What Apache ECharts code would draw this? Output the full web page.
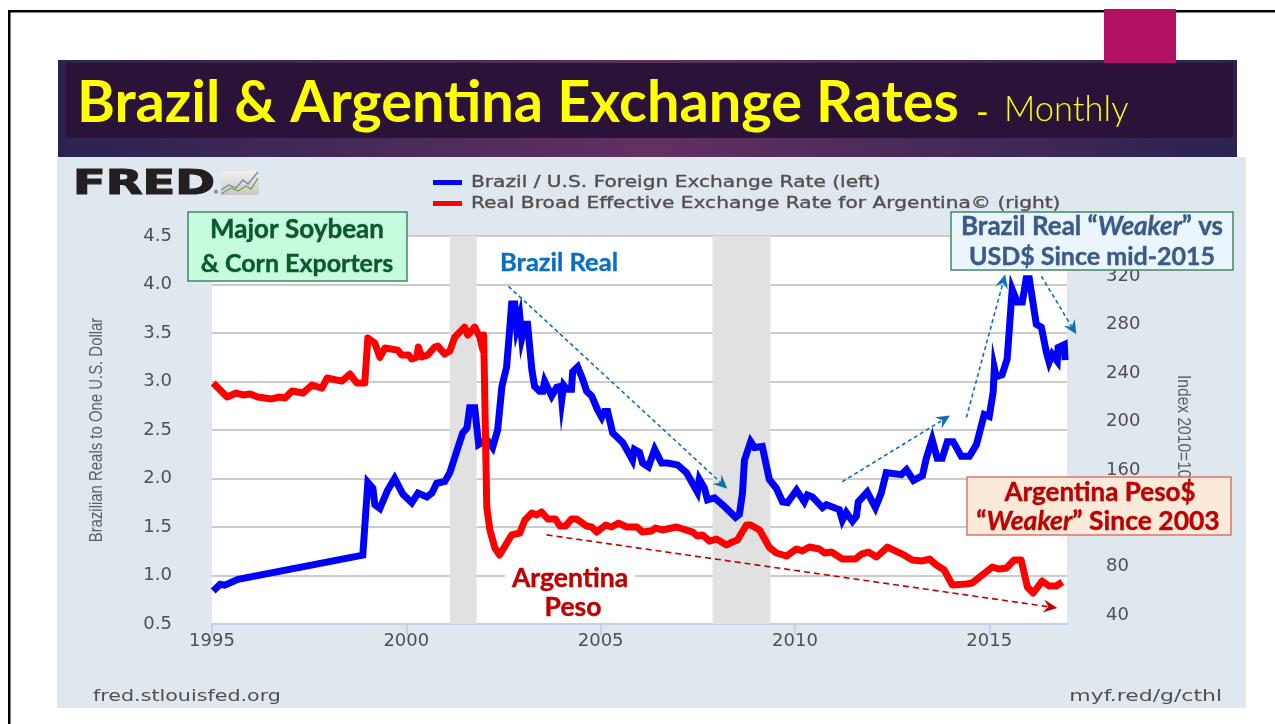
<!DOCTYPE html>
<html><head><meta charset="utf-8">
<style>html,body{margin:0;padding:0;background:#fff}#c{width:1275px;height:724px}</style>
<script src="https://cdn.jsdelivr.net/npm/echarts@6/dist/echarts.min.js"></script>
</head><body><div id="c"></div>
<script>
const xTicks=[1995,2000,2005,2010,2015];
const leftTicks=[0.5,1,1.5,2,2.5,3,3.5,4,4.5];
const rightTicks=[40,80,120,160,200,240,280,320];
const recessions=[[2001.12,2001.81],[2007.88,2009.37]];
const brazilName='Brazil / U.S. Foreign Exchange Rate (left)';
const argentinaName='Real Broad Effective Exchange Rate for Argentina© (right)';
const brazilDates=[1995.03,1995.21,1995.33,1995.67,1998.88,1999.01,1999.14,1999.19,1999.32,1999.52,1999.7,1999.91,2000.14,2000.3,2000.53,2000.66,2000.78,2000.99,2001.12,2001.45,2001.56,2001.63,2001.76,2001.86,2002.07,2002.22,2002.35,2002.46,2002.58,2002.66,2002.71,2002.79,2002.84,2002.92,2002.97,2003.05,2003.12,2003.23,2003.3,2003.43,2003.51,2003.56,2003.61,2003.74,2003.87,2003.97,2004,2004.05,2004.13,2004.25,2004.28,2004.41,2004.54,2004.64,2004.77,2004.92,2005.03,2005.1,2005.18,2005.31,2005.57,2005.82,2005.87,2006,2006.08,2006.23,2006.39,2006.57,2006.72,2006.98,2007.21,2007.49,2007.54,2007.67,2007.75,2007.93,2008.19,2008.47,2008.57,2008.65,2008.7,2008.86,2008.96,2009.16,2009.34,2009.52,2009.68,2009.81,2010.04,2010.24,2010.32,2010.45,2010.71,2010.81,2011.14,2011.22,2011.32,2011.48,2011.58,2011.63,2011.86,2012.07,2012.22,2012.35,2012.74,2012.87,2013.05,2013.28,2013.38,2013.53,2013.66,2013.79,2013.92,2014.07,2014.28,2014.49,2014.67,2014.87,2015,2015.1,2015.13,2015.18,2015.33,2015.46,2015.59,2015.72,2015.85,2015.95,2016.03,2016.21,2016.34,2016.47,2016.54,2016.62,2016.75,2016.77,2016.93,2016.95];
const brazilValues=[0.84,0.91,0.9,0.96,1.21,1.96,1.9,1.73,1.69,1.88,2,1.84,1.75,1.85,1.81,1.85,1.95,1.97,2.06,2.47,2.52,2.73,2.73,2.35,2.4,2.32,2.5,2.95,3.15,3.54,3.8,3.8,3.55,3.67,3.45,3.59,3.59,3.12,2.95,2.9,2.9,3,3,2.85,2.94,2.95,2.81,2.96,2.92,2.92,3.1,3.15,3.02,2.9,2.85,2.71,2.63,2.69,2.69,2.47,2.37,2.19,2.3,2.27,2.16,2.12,2.3,2.16,2.16,2.14,2.06,1.86,1.99,1.9,1.78,1.8,1.71,1.6,1.63,1.85,2.19,2.38,2.32,2.33,1.99,1.9,1.76,1.75,1.88,1.76,1.83,1.81,1.7,1.73,1.68,1.57,1.65,1.56,1.61,1.76,1.86,1.7,1.85,2.06,2.04,2.09,1.98,2.03,2.21,2.4,2.21,2.21,2.38,2.38,2.23,2.23,2.35,2.66,2.64,2.89,3.14,3.05,3.07,3.23,3.95,3.82,3.82,4.06,4.06,3.59,3.56,3.3,3.2,3.28,3.21,3.35,3.38,3.22];
const argentinaDates=[1995.03,1995.39,1995.62,1995.8,1995.98,1996.18,1996.54,1996.72,1996.88,1997.06,1997.34,1997.57,1997.83,1997.96,1998.34,1998.55,1998.73,1998.93,1999.01,1999.19,1999.32,1999.45,1999.78,1999.88,2000.06,2000.14,2000.27,2000.31,2000.4,2000.55,2000.73,2000.81,2000.99,2001.12,2001.25,2001.5,2001.58,2001.76,2001.89,2001.97,2001.99,2002.04,2002.07,2002.15,2002.28,2002.4,2002.71,2002.92,2003.05,2003.23,2003.35,2003.48,2003.64,2003.84,2003.95,2004.1,2004.25,2004.38,2004.64,2004.77,2004.9,2005.13,2005.28,2005.46,2005.67,2005.93,2006.08,2006.31,2006.41,2006.59,2006.95,2007.37,2007.49,2007.62,2007.8,2007.98,2008.24,2008.39,2008.52,2008.75,2008.86,2009.09,2009.34,2009.52,2009.78,2010.04,2010.19,2010.37,2010.63,2010.76,2010.94,2011.22,2011.56,2011.71,2011.89,2012.1,2012.38,2012.76,2013.02,2013.28,2013.46,2013.64,2013.84,2014.05,2014.41,2014.56,2014.82,2015.08,2015.26,2015.44,2015.64,2015.82,2015.98,2016.13,2016.36,2016.54,2016.72,2016.88];
const argentinaValues=[231.8,220.2,223.5,221.9,222.7,220.2,218.6,220.2,219.4,225.2,223.5,230.1,227.6,235.9,233.4,239.2,231.8,231.8,269,264.8,253,260.7,259,254.9,254.9,251.6,253.3,261.5,253.3,254.9,261.5,262.3,255.7,258.2,269.8,278,271.4,278,269.8,259,271.4,271.4,129.3,110.3,95.4,89.6,106.2,107.8,118.5,124.3,122.7,125.2,119.4,119.4,113.6,113.6,119.4,119.4,113.6,112.8,108.6,114.4,112.8,116,112.8,112.8,108.6,109.5,111.9,110.3,112.8,108.6,105.3,106.2,101.2,102.8,97.9,100.4,102,114.4,114.4,110.3,96,91.3,88.8,94.6,93,96.2,94.6,91.3,92.1,86.3,86.3,90.4,92.1,88,96.2,90.4,85.5,84.7,86.3,81.4,77.2,64.8,65.7,66.5,73.1,79.7,78,78.9,85.5,85.5,63.2,58.2,68.1,64,64,67.3];
const blueArrows=[[2002.63,3.98,2008.26,1.895],[2011.22,1.967,2013.99,2.649],[2014.41,2.628,2015.41,4.105],[2016.34,4.085,2017.24,3.486]];
const redArrows=[[2003.61,1.419,2016.75,0.665]];

const zip=(a,b)=>a.map((v,i)=>[v,b[i]]);
const arrowSeries=(name,data,color,dash,width)=>({
  name,type:'custom',xAxisIndex:0,yAxisIndex:0,silent:true,clip:false,z:5,data,
  encode:{x:[0,2],y:[1,3]},
  renderItem(p,api){
    const a=api.coord([api.value(0),api.value(1)]),b=api.coord([api.value(2),api.value(3)]);
    const t=Math.atan2(b[1]-a[1],b[0]-a[0]),c=Math.cos(t),s=Math.sin(t),L=14,W=6.5,N=9;
    return {type:'group',children:[
      {type:'line',shape:{x1:a[0],y1:a[1],x2:b[0]-N*c,y2:b[1]-N*s},style:{stroke:color,lineWidth:width,lineDash:dash,fill:null}},
      {type:'polygon',shape:{points:[[b[0],b[1]],[b[0]-L*c-W*s,b[1]-L*s+W*c],[b[0]-N*c,b[1]-N*s],[b[0]-L*c+W*s,b[1]-L*s-W*c]]},style:{fill:color}}
    ]};
  }
});
const rect=(x,y,w,h,fill,stroke,z)=>({type:'rect',shape:{x,y,width:w,height:h},style:{fill,stroke:stroke||null,lineWidth:stroke?1.5:0},z:z,silent:true});
const txt=(x,y,text,size,fill,z,extra)=>({type:'text',x,y,z,silent:true,style:Object.assign({text,font:`bold ${size}px Lato`,fill,textAlign:'center',textVerticalAlign:'middle',stroke:fill,lineWidth:0.4},extra||{})});
const stretched=(x,y,text,font,fill,sx,align,z,sw)=>({type:'text',x,y,z:z||-14,scaleX:sx,silent:true,style:{text,font,fill,textAlign:align||'left',textVerticalAlign:'middle',stroke:sw?fill:null,lineWidth:sw||0}});
const richWeak=(color,size)=>({i:{fill:color,textFill:color,fontStyle:'italic',fontWeight:'bold',fontSize:size,fontFamily:'Lato'}});

const chart=echarts.init(document.getElementById('c'),null,{renderer:'canvas'});
chart.setOption({
  animation:false,backgroundColor:'#fff',
  title:[
    {text:'Brazil & Argentina Exchange Rates',left:77,top:74,padding:0,textStyle:{color:'#ffff00',fontFamily:'Lato',fontWeight:'bold',fontSize:57.7}},
    {text:'-',left:976,top:96,padding:0,textStyle:{color:'#ffff00',fontFamily:'Lato',fontWeight:'normal',fontSize:34}},
    {text:'Monthly',left:1004,top:92,padding:0,textStyle:{color:'#ffff00',fontFamily:'Lato',fontWeight:300,fontSize:34.5}}
  ],
  legend:{left:433,top:180,orient:'vertical',itemWidth:29,itemHeight:5,itemGap:16,padding:0,selectedMode:false,
    data:[{name:brazilName,icon:'rect'},{name:argentinaName,icon:'rect'}],
    formatter:()=>'',textStyle:{fontSize:5}},
  grid:{left:212,right:208,top:236,height:388,show:true,backgroundColor:'#fff',borderWidth:0,outerBoundsMode:'none'},
  xAxis:{type:'value',min:1995,max:2017,interval:5,
    axisLine:{show:true,lineStyle:{color:'#c3d2e0',width:2}},
    axisTick:{show:true,length:11,customValues:xTicks,lineStyle:{color:'#c3d2e0',width:2}},
    splitLine:{show:false},
    axisLabel:{color:'#505050',fontFamily:'DejaVu Sans',fontSize:18,margin:8,customValues:xTicks,formatter:v=>String(v)}},
  yAxis:[
    {type:'value',min:0.5,max:4.5,interval:0.5,position:'left',
     axisLine:{show:false},axisTick:{show:false},
     splitLine:{show:true,lineStyle:{color:'#cccccc',width:2}},
     axisLabel:{color:'#505050',fontFamily:'DejaVu Sans',fontSize:18,margin:40,customValues:leftTicks,formatter:v=>v.toFixed(1)}},
    {type:'value',min:32.6,max:353.3,position:'right',
     axisLine:{show:false},axisTick:{show:false},splitLine:{show:false},
     axisLabel:{color:'#505050',fontFamily:'DejaVu Sans',fontSize:18,margin:39,customValues:rightTicks}}
  ],
  series:[
    {name:brazilName,type:'line',xAxisIndex:0,yAxisIndex:0,z:3,showSymbol:false,symbol:'none',data:zip(brazilDates,brazilValues),
     lineStyle:{color:'#0000ff',width:7,join:'miter'},itemStyle:{color:'#0000ff'},
     markArea:{silent:true,itemStyle:{color:'#e1e1e1'},data:recessions.map(r=>[{xAxis:r[0]},{xAxis:r[1]}])}},
    {name:argentinaName,type:'line',xAxisIndex:0,yAxisIndex:1,z:4,showSymbol:false,symbol:'none',data:zip(argentinaDates,argentinaValues),
     lineStyle:{color:'#ff0000',width:7,join:'round'},itemStyle:{color:'#ff0000'}},
    arrowSeries('Brazil trend',blueArrows,'#0f70b8',[4,3],1.6),
    arrowSeries('Argentina trend',redArrows,'#c00000',[6,4],1.6)
  ],
  graphic:{elements:[
    rect(8,10,1267,2.5,'#000',null,-20),
    rect(8,10,2.5,714,'#000',null,-20),
    {type:'rect',shape:{x:58,y:60,width:1179,height:97},z:-19,silent:true,style:{fill:new echarts.graphic.LinearGradient(0,0,1,0,[{offset:0,color:'#2a2350'},{offset:.5,color:'#62305f'},{offset:1,color:'#2a2350'}])}},
    rect(66,63,1167,75,'#2a1238',null,-18),
    rect(1104,9,72,54,'#b31262',null,-17),
    rect(57,157,1189,551,'#dfe7ef',null,-16),
    // FRED logo
    {type:'text',x:73,y:185,z:-15,scaleX:1.45,silent:true,style:{text:'FRED',font:'900 33px "DejaVu Sans"',fill:'#231f20',stroke:'#231f20',lineWidth:1.2,textVerticalAlign:'middle'}},
    {type:'text',x:213,y:192,z:-15,silent:true,style:{text:'®',font:'6px "DejaVu Sans"',fill:'#231f20',textVerticalAlign:'middle'}},
    {type:'rect',shape:{x:221,y:171,width:38,height:24,r:2},z:-15,silent:true,style:{fill:new echarts.graphic.LinearGradient(0,0,0,1,[{offset:0,color:'#f0f0ec'},{offset:1,color:'#c8c8c4'}])}},
    {type:'polyline',shape:{points:[[221,190],[229,185],[236,188],[243,180],[248,184],[258,172]]},z:-14,silent:true,style:{stroke:'#6c8cac',lineWidth:1.3,fill:null}},
    {type:'polyline',shape:{points:[[221,194],[231,188],[238,191],[246,186],[251,189],[258,178]]},z:-14,silent:true,style:{stroke:'#7c9c50',lineWidth:1.3,fill:null}},
    // legend labels, footers, axis names
    stretched(471,183,brazilName,'500 16px "DejaVu Sans"','#505050',1.26,'left',-14,0.35),
    stretched(471,204,argentinaName,'500 16px "DejaVu Sans"','#505050',1.26,'left',-14,0.35),
    stretched(93,697,'fred.stlouisfed.org','16px "DejaVu Sans"','#505050',1.29),
    stretched(1222,697,'myf.red/g/cthl','16px "DejaVu Sans"','#505050',1.37,'right'),
    {type:'text',x:97,y:430,z:-14,scaleX:0.785,rotation:Math.PI/2,silent:true,style:{text:'Brazilian Reals to One U.S. Dollar',font:'19px "Liberation Sans"',fill:'#606060',textAlign:'center',textVerticalAlign:'middle'}},
    {type:'text',x:1183,y:375,z:-14,scaleX:0.82,rotation:-Math.PI/2,silent:true,style:{text:'Index 2010=100',font:'19px "Liberation Sans"',fill:'#606060',textAlign:'left',textVerticalAlign:'middle'}},
    // annotations
    rect(188,212,219,69,'#c6fbdd','#3e8a62',50),
    txt(297,230,'Major Soybean',26,'#0b5a2d',51),
    txt(297,264,'& Corn Exporters',25,'#0b5a2d',51),
    rect(951,212,282,58,'#eaf5fd','#3e8a62',50),
    txt(1092,227,'Brazil Real “{i|Weaker}” vs',26,'#3a5a8c',51,{rich:richWeak('#3a5a8c',26)}),
    txt(1092,257,'USD$ Since mid-2015',25,'#3a5a8c',51),
    rect(967,477,264,58,'#fbe9da','#d9766d',50),
    txt(1100,493,'Argentina Peso$',26,'#bd0000',51),
    txt(1098,521,'“{i|Weaker}” Since 2003',26.5,'#bd0000',51,{rich:richWeak('#bd0000',26.5)}),
    txt(559,263,'Brazil Real',25.5,'#0b70c0',51),
    rect(505,566,130,18,'#fff',null,49),
    txt(570,578,'Argentina',26.5,'#c00000',51),
    txt(573,607,'Peso',26.5,'#c00000',51)
  ]}
});
</script></body></html>
